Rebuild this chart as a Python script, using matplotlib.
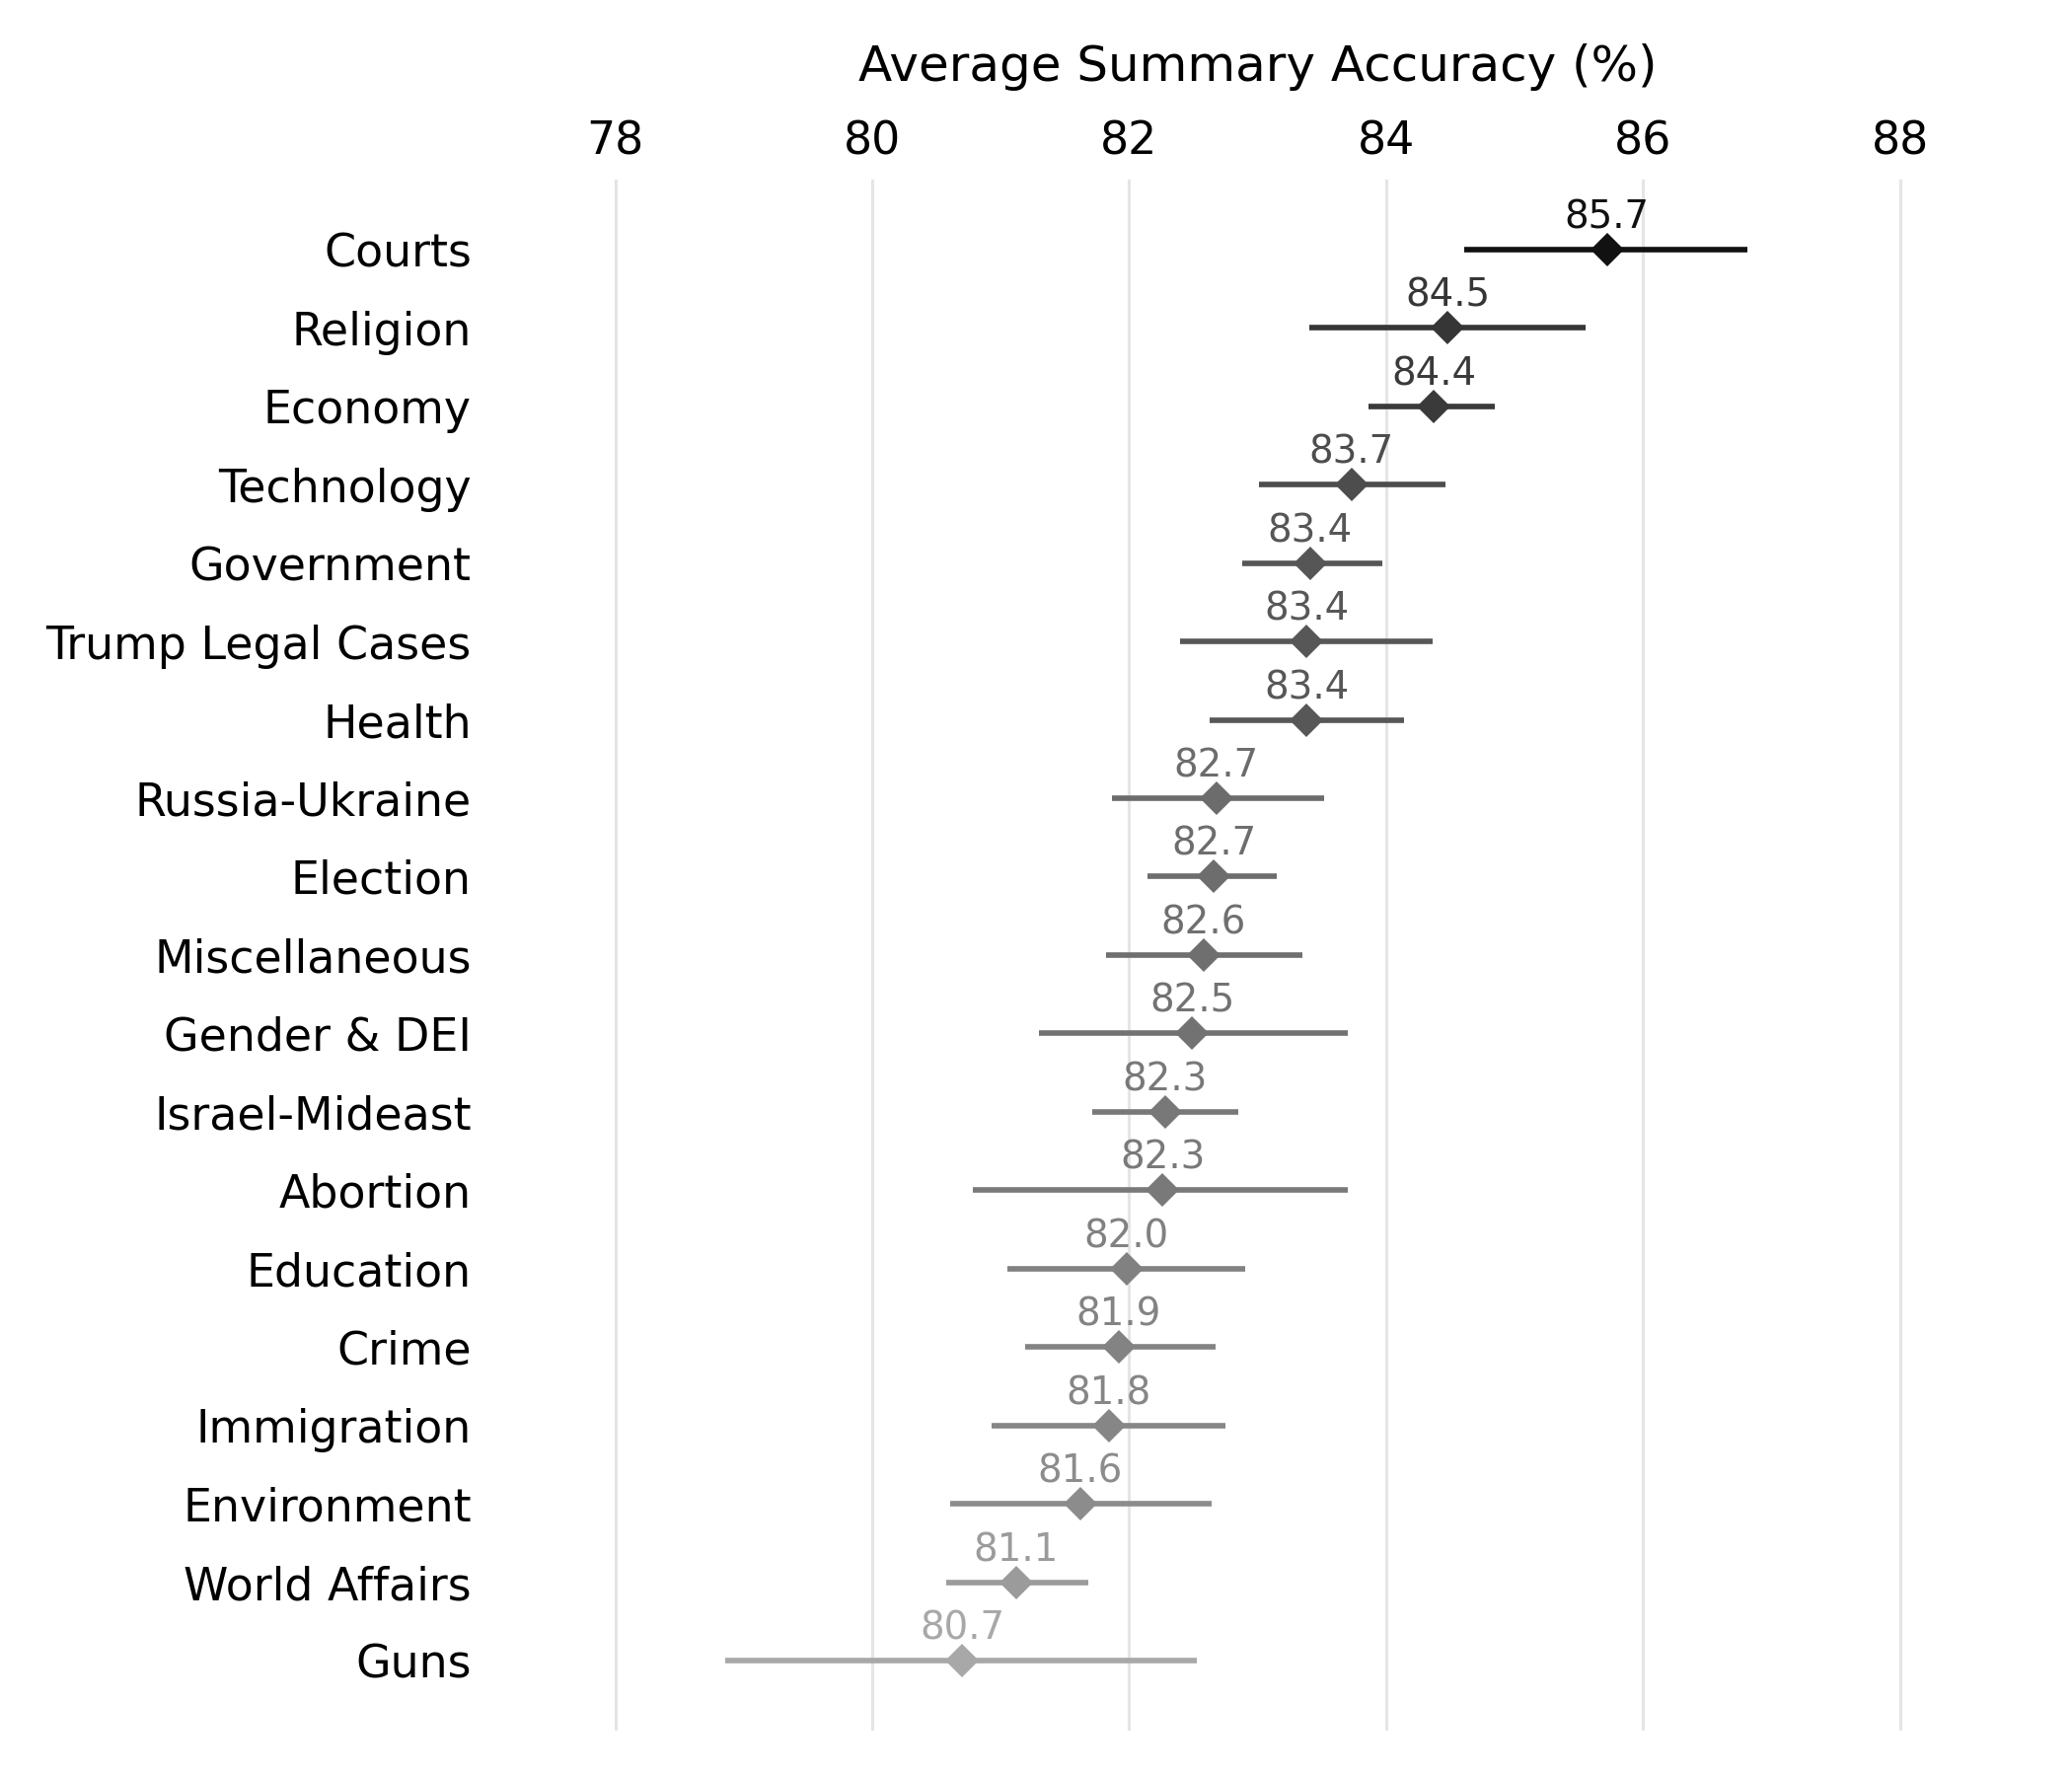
import matplotlib
matplotlib.use("Agg")
import matplotlib.pyplot as plt
import numpy as np

# topic accuracy with 95% interval
topics = ["Courts", "Religion", "Economy", "Technology", "Government",
          "Trump Legal Cases", "Health", "Russia-Ukraine", "Election",
          "Miscellaneous", "Gender & DEI", "Israel-Mideast", "Abortion",
          "Education", "Crime", "Immigration", "Environment",
          "World Affairs", "Guns"]
means = [85.72, 84.48, 84.37, 83.73, 83.41, 83.38, 83.38, 82.68, 82.66,
         82.58, 82.49, 82.28, 82.26, 81.98, 81.92, 81.84, 81.62, 81.12, 80.70]
lower = [84.61, 83.40, 83.86, 83.01, 82.88, 82.40, 82.63, 81.87, 82.14,
         81.82, 81.30, 81.71, 80.78, 81.05, 81.19, 80.93, 80.61, 80.58, 78.86]
upper = [86.81, 85.55, 84.85, 84.46, 83.97, 84.36, 84.14, 83.52, 83.15,
         83.35, 83.70, 82.85, 83.70, 82.90, 82.67, 82.75, 82.64, 81.68, 82.53]

means = np.array(means)
y = np.arange(len(topics))

# darker = higher accuracy
t = (means.max() - means) / (means.max() - means.min())
greys = (17 + t * (168 - 17)) / 255.0
colors = [(g, g, g) for g in greys]

fig = plt.figure(figsize=(7, 6), dpi=300)
ax = fig.add_axes([0.2349, 0.0256, 0.979 - 0.2349, 0.8989 - 0.0256])

for i in range(len(topics)):
    ax.hlines(y[i], lower[i], upper[i], color=colors[i], lw=1.35, zorder=2)
    ax.plot(means[i], y[i], marker="D", ms=5.7, color=colors[i], mew=0, zorder=3)
    ax.text(means[i], y[i] - 0.17, f"{means[i]:.1f}", ha="center", va="bottom",
            fontsize=9.3, color=colors[i], zorder=4)

ax.set_xlim(77, 89)
ax.set_ylim(len(topics) - 1 + 0.89, -0.89)
ax.set_yticks(y)
ax.set_yticklabels(topics, fontsize=11)
ax.set_xticks([78, 80, 82, 84, 86, 88])
ax.xaxis.tick_top()
ax.xaxis.set_label_position("top")
ax.tick_params(axis="x", length=0, pad=3.8, labelsize=11)
ax.tick_params(axis="y", length=0, pad=3.7)
ax.set_xlabel("Average Summary Accuracy (%)", fontsize=12, labelpad=9.3)
ax.grid(axis="x", color="#e5e5e5", lw=0.75, zorder=0)
ax.grid(axis="y", visible=False)
for s in ax.spines.values():
    s.set_visible(False)

fig.savefig("out.png", dpi=300)
